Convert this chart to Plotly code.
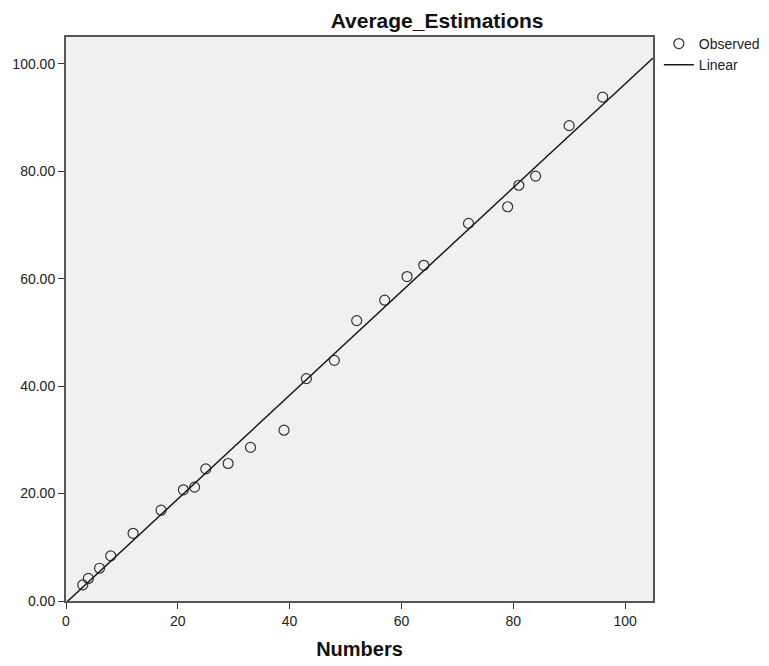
import numpy as np
import plotly.graph_objects as go

numbers = [3, 4, 6, 8, 12, 17, 21, 23, 25, 29, 33, 39, 43, 48, 52, 57, 61, 64, 72, 79, 81, 84, 90, 96]
estimations = [3.0, 4.2, 6.1, 8.4, 12.6, 16.9, 20.7, 21.2, 24.6, 25.6, 28.6, 31.8, 41.4, 44.8,
               52.2, 56.0, 60.4, 62.5, 70.3, 73.4, 77.4, 79.1, 88.5, 93.8]
x_ticks = [0, 20, 40, 60, 80, 100]
y_ticks = [0, 20, 40, 60, 80, 100]
y_tick_labels = ["0.00", "20.00", "40.00", "60.00", "80.00", "100.00"]

slope, intercept = np.polyfit(numbers, estimations, 1)
line_x = [0, 105]
line_y = [intercept + slope * v for v in line_x]

FONT = "Liberation Sans, Arial, sans-serif"

fig = go.Figure()
fig.add_trace(go.Scatter(
    x=numbers, y=estimations, mode="markers", name="Observed",
    marker=dict(symbol="circle-open", size=10, color="#333333", line=dict(width=1.2, color="#333333")),
))
fig.add_trace(go.Scatter(
    x=line_x, y=line_y, mode="lines", name="Linear",
    line=dict(color="#1a1a1a", width=1.5),
))

fig.update_layout(
    width=769, height=666,
    margin=dict(l=58, r=119, t=29, b=73),
    paper_bgcolor="white",
    plot_bgcolor="#F0F0F0",
    font=dict(family=FONT, size=14, color="#222222"),
    title=dict(text="<b>Average_Estimations</b>", x=0.558, xanchor="center", y=0.981, yanchor="middle",
               font=dict(family=FONT, size=21, color="#111111")),
    showlegend=True,
    legend=dict(x=1.01, y=1.016, xanchor="left", yanchor="top", bgcolor="rgba(0,0,0,0)",
                font=dict(family=FONT, size=14, color="#222222"), itemwidth=30, tracegroupgap=0),
)
fig.update_xaxes(
    range=[0, 105], tickmode="array", tickvals=x_ticks, ticks="outside", ticklen=6,
    tickcolor="#333333", showgrid=False, zeroline=False, automargin=False,
    showline=True, linecolor="#555555", linewidth=2, mirror=True,
    title=dict(text="<b>Numbers</b>", font=dict(family=FONT, size=20, color="#111111"), standoff=14),
    tickfont=dict(family=FONT, size=14, color="#222222"),
)
fig.update_yaxes(
    range=[0, 105], tickmode="array", tickvals=y_ticks, ticktext=y_tick_labels, ticks="outside", ticklen=6,
    tickcolor="#333333", showgrid=False, zeroline=False, automargin=False,
    showline=True, linecolor="#555555", linewidth=2, mirror=True,
    tickfont=dict(family=FONT, size=14, color="#222222"),
)

fig.write_html("out.html")
